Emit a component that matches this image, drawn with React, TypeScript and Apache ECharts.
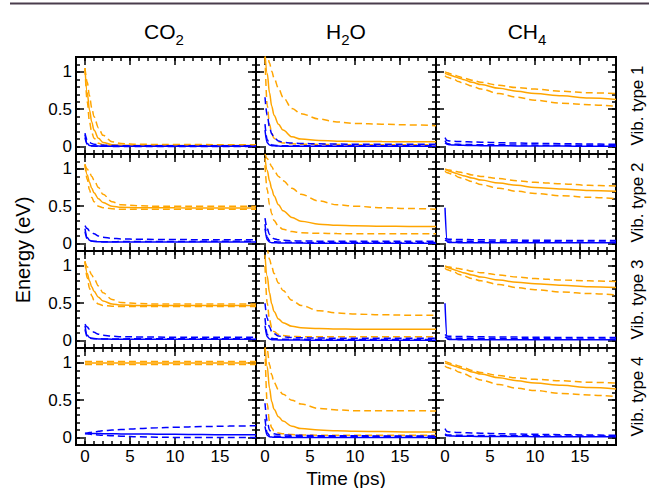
import { useEffect, useRef } from 'react';
import * as echarts from 'echarts';

// time grid (ps) at which values were read
const T = [0, 0.25, 0.5, 0.75, 1, 1.5, 2, 3, 4, 6, 8, 10, 13, 16, 19];

const rowLabels = ['Vib. type 1', 'Vib. type 2', 'Vib. type 3', 'Vib. type 4'];
const xTicks = [0, 5, 10, 15];
const yTicks = [0, 0.5, 1];

// ---- CO2 ----
const co2v1OrSolid = [1.05, 0.72, 0.49, 0.33, 0.22, 0.11, 0.055, 0.025, 0.018, 0.015, 0.015, 0.015, 0.015, 0.015, 0.015];
const co2v1OrDashA = [1.05, 0.86, 0.68, 0.52, 0.4, 0.25, 0.15, 0.065, 0.04, 0.03, 0.028, 0.027, 0.026, 0.025, 0.025];
const co2v1OrDashB = [1.05, 0.6, 0.33, 0.19, 0.11, 0.045, 0.025, 0.015, 0.012, 0.01, 0.01, 0.01, 0.01, 0.01, 0.01];
const co2v1BlSolid = [0.16, 0.04, 0.015, 0.01, 0.008, 0.006, 0.005, 0.004, 0.004, 0.003, 0.003, 0.003, 0.003, 0.003, 0.003];
const co2v1BlDashA = [0.18, 0.09, 0.055, 0.04, 0.03, 0.022, 0.018, 0.014, 0.012, 0.01, 0.01, 0.01, 0.01, 0.01, 0.01];
const co2v1BlDashB = [0.12, 0.03, 0.012, 0.008, 0.006, 0.004, 0.003, 0.002, 0.002, 0.002, 0.002, 0.002, 0.002, 0.002, 0.002];

const co2v2OrSolid = [1.06, 0.92, 0.82, 0.74, 0.68, 0.6, 0.55, 0.5, 0.485, 0.48, 0.48, 0.478, 0.477, 0.476, 0.475];
const co2v2OrDashA = [1.06, 1.0, 0.95, 0.9, 0.85, 0.75, 0.66, 0.56, 0.52, 0.505, 0.5, 0.5, 0.5, 0.5, 0.5];
const co2v2OrDashB = [1.06, 0.86, 0.72, 0.62, 0.56, 0.5, 0.48, 0.465, 0.46, 0.46, 0.46, 0.46, 0.46, 0.46, 0.46];
const co2v2BlSolid = [0.2, 0.08, 0.045, 0.035, 0.03, 0.025, 0.022, 0.02, 0.02, 0.02, 0.02, 0.02, 0.02, 0.02, 0.02];
const co2v2BlDashA = [0.24, 0.2, 0.17, 0.15, 0.13, 0.1, 0.085, 0.07, 0.062, 0.057, 0.055, 0.053, 0.052, 0.05, 0.05];
const co2v2BlDashB = [0.16, 0.06, 0.04, 0.032, 0.028, 0.026, 0.025, 0.025, 0.026, 0.027, 0.028, 0.028, 0.029, 0.03, 0.03];

const co2v3OrSolid = [1.06, 0.9, 0.8, 0.72, 0.66, 0.58, 0.53, 0.49, 0.475, 0.47, 0.47, 0.47, 0.47, 0.47, 0.47];
const co2v3OrDashA = [1.06, 0.99, 0.93, 0.88, 0.83, 0.73, 0.64, 0.55, 0.51, 0.495, 0.49, 0.49, 0.49, 0.49, 0.49];
const co2v3OrDashB = [1.06, 0.84, 0.7, 0.6, 0.54, 0.49, 0.47, 0.46, 0.455, 0.455, 0.455, 0.455, 0.455, 0.455, 0.455];
const co2v3BlSolid = [0.2, 0.07, 0.04, 0.03, 0.026, 0.022, 0.02, 0.018, 0.018, 0.018, 0.018, 0.018, 0.018, 0.018, 0.018];
const co2v3BlDashA = [0.22, 0.18, 0.15, 0.13, 0.11, 0.085, 0.07, 0.058, 0.052, 0.048, 0.046, 0.045, 0.044, 0.043, 0.043];
const co2v3BlDashB = [0.15, 0.05, 0.035, 0.028, 0.025, 0.023, 0.022, 0.022, 0.022, 0.023, 0.024, 0.024, 0.025, 0.025, 0.025];

const co2v4OrSolid = [1.0, 1.0, 1.0, 1.0, 1.0, 1.0, 1.0, 1.0, 1.0, 1.0, 1.0, 1.0, 1.0, 1.0, 1.0];
const co2v4OrDashA = [1.02, 1.02, 1.02, 1.02, 1.02, 1.02, 1.02, 1.02, 1.02, 1.02, 1.02, 1.02, 1.02, 1.02, 1.02];
const co2v4OrDashB = [0.98, 0.98, 0.98, 0.98, 0.98, 0.98, 0.98, 0.98, 0.98, 0.98, 0.98, 0.98, 0.98, 0.98, 0.98];
const co2v4BlSolid = [0.055, 0.055, 0.055, 0.054, 0.054, 0.053, 0.052, 0.05, 0.049, 0.047, 0.045, 0.043, 0.04, 0.038, 0.036];
const co2v4BlDashA = [0.055, 0.06, 0.066, 0.07, 0.075, 0.083, 0.09, 0.1, 0.108, 0.12, 0.13, 0.138, 0.147, 0.153, 0.158];
const co2v4BlDashB = [0.055, 0.05, 0.046, 0.042, 0.039, 0.034, 0.03, 0.024, 0.018, 0.01, 0.005, 0.002, 0.0, 0.0, 0.0];

// ---- H2O ----
const h2ov1OrSolid = [1.25, 0.98, 0.72, 0.54, 0.42, 0.3, 0.22, 0.13, 0.1, 0.08, 0.072, 0.068, 0.066, 0.065, 0.065];
const h2ov1OrDashA = [1.45, 1.25, 1.12, 1.01, 0.92, 0.78, 0.66, 0.51, 0.44, 0.37, 0.33, 0.31, 0.3, 0.29, 0.28];
const h2ov1OrDashB = [1.2, 0.55, 0.3, 0.18, 0.11, 0.065, 0.048, 0.036, 0.031, 0.028, 0.026, 0.025, 0.025, 0.025, 0.025];
const h2ov1BlSolid = [0.22, 0.05, 0.02, 0.012, 0.009, 0.006, 0.005, 0.004, 0.004, 0.003, 0.003, 0.003, 0.003, 0.003, 0.003];
const h2ov1BlDashA = [0.66, 0.42, 0.26, 0.17, 0.12, 0.075, 0.058, 0.046, 0.041, 0.036, 0.033, 0.031, 0.03, 0.03, 0.03];
const h2ov1BlDashB = [0.3, 0.09, 0.035, 0.022, 0.017, 0.013, 0.012, 0.011, 0.01, 0.01, 0.01, 0.01, 0.01, 0.01, 0.01];

const h2ov2OrSolid = [1.15, 0.98, 0.84, 0.73, 0.64, 0.52, 0.44, 0.35, 0.3, 0.26, 0.245, 0.238, 0.233, 0.23, 0.23];
const h2ov2OrDashA = [1.2, 1.14, 1.08, 1.03, 0.98, 0.9, 0.84, 0.74, 0.66, 0.57, 0.52, 0.5, 0.48, 0.47, 0.46];
const h2ov2OrDashB = [1.05, 0.72, 0.52, 0.4, 0.31, 0.23, 0.19, 0.16, 0.145, 0.137, 0.133, 0.131, 0.13, 0.13, 0.13];
const h2ov2BlSolid = [0.2, 0.05, 0.02, 0.012, 0.01, 0.008, 0.007, 0.006, 0.006, 0.005, 0.005, 0.005, 0.005, 0.005, 0.005];
const h2ov2BlDashA = [0.34, 0.2, 0.12, 0.085, 0.065, 0.05, 0.043, 0.037, 0.034, 0.032, 0.03, 0.03, 0.03, 0.03, 0.03];
const h2ov2BlDashB = [0.26, 0.08, 0.04, 0.03, 0.025, 0.02, 0.018, 0.016, 0.015, 0.015, 0.015, 0.015, 0.015, 0.015, 0.015];

const h2ov3OrSolid = [1.15, 0.86, 0.64, 0.49, 0.39, 0.29, 0.24, 0.19, 0.172, 0.16, 0.155, 0.152, 0.15, 0.15, 0.15];
const h2ov3OrDashA = [1.4, 1.22, 1.09, 0.99, 0.9, 0.77, 0.67, 0.54, 0.47, 0.4, 0.37, 0.355, 0.345, 0.34, 0.34];
const h2ov3OrDashB = [1.0, 0.5, 0.28, 0.17, 0.12, 0.082, 0.067, 0.056, 0.052, 0.05, 0.05, 0.05, 0.05, 0.05, 0.05];
const h2ov3BlSolid = [0.2, 0.05, 0.02, 0.012, 0.01, 0.008, 0.007, 0.006, 0.006, 0.005, 0.005, 0.005, 0.005, 0.005, 0.005];
const h2ov3BlDashA = [0.5, 0.3, 0.18, 0.12, 0.09, 0.062, 0.05, 0.041, 0.037, 0.033, 0.031, 0.03, 0.03, 0.03, 0.03];
const h2ov3BlDashB = [0.3, 0.08, 0.04, 0.03, 0.025, 0.02, 0.018, 0.017, 0.016, 0.015, 0.015, 0.015, 0.015, 0.015, 0.015];

const h2ov4OrSolid = [1.25, 0.95, 0.66, 0.48, 0.38, 0.28, 0.22, 0.15, 0.12, 0.1, 0.09, 0.085, 0.08, 0.075, 0.075];
const h2ov4OrDashA = [1.45, 1.18, 0.98, 0.84, 0.74, 0.64, 0.58, 0.5, 0.45, 0.39, 0.37, 0.36, 0.36, 0.36, 0.355];
const h2ov4OrDashB = [1.2, 0.45, 0.22, 0.13, 0.09, 0.06, 0.05, 0.04, 0.035, 0.03, 0.03, 0.03, 0.03, 0.03, 0.03];
const h2ov4BlSolid = [0.15, 0.03, 0.01, 0.006, 0.004, 0.003, 0.002, 0.002, 0.002, 0.002, 0.002, 0.002, 0.002, 0.002, 0.002];
const h2ov4BlDashA = [0.46, 0.22, 0.1, 0.06, 0.05, 0.04, 0.035, 0.03, 0.03, 0.025, 0.024, 0.023, 0.022, 0.021, 0.02];
const h2ov4BlDashB = [0.25, 0.06, 0.03, 0.02, 0.018, 0.016, 0.015, 0.015, 0.015, 0.015, 0.015, 0.015, 0.015, 0.015, 0.015];

// ---- CH4 ----
const ch4v1OrSolid = [0.98, 0.97, 0.96, 0.95, 0.94, 0.92, 0.9, 0.86, 0.83, 0.78, 0.74, 0.71, 0.68, 0.65, 0.63];
const ch4v1OrDashA = [1.0, 0.99, 0.98, 0.97, 0.96, 0.94, 0.92, 0.89, 0.86, 0.82, 0.79, 0.77, 0.74, 0.72, 0.71];
const ch4v1OrDashB = [0.95, 0.93, 0.92, 0.91, 0.9, 0.87, 0.85, 0.81, 0.77, 0.71, 0.66, 0.62, 0.58, 0.56, 0.54];
const ch4v1BlSolid = [0.05, 0.03, 0.025, 0.022, 0.02, 0.018, 0.016, 0.014, 0.012, 0.01, 0.008, 0.007, 0.006, 0.005, 0.005];
const ch4v1BlDashA = [0.12, 0.08, 0.075, 0.072, 0.07, 0.068, 0.066, 0.062, 0.058, 0.052, 0.047, 0.043, 0.038, 0.034, 0.03];
const ch4v1BlDashB = [0.08, 0.04, 0.035, 0.033, 0.03, 0.029, 0.028, 0.026, 0.025, 0.023, 0.021, 0.019, 0.017, 0.016, 0.015];

const ch4v2OrSolid = [0.99, 0.98, 0.97, 0.96, 0.95, 0.93, 0.91, 0.88, 0.85, 0.81, 0.78, 0.75, 0.73, 0.71, 0.7];
const ch4v2OrDashA = [1.0, 0.99, 0.985, 0.98, 0.97, 0.96, 0.95, 0.92, 0.9, 0.87, 0.84, 0.82, 0.8, 0.78, 0.77];
const ch4v2OrDashB = [0.97, 0.95, 0.94, 0.93, 0.92, 0.89, 0.87, 0.83, 0.79, 0.74, 0.7, 0.67, 0.64, 0.62, 0.6];
const ch4v2BlSolid = [0.48, 0.02, 0.015, 0.014, 0.013, 0.012, 0.012, 0.011, 0.011, 0.01, 0.01, 0.01, 0.01, 0.01, 0.01];
const ch4v2BlDashA = [0.07, 0.06, 0.058, 0.057, 0.056, 0.055, 0.054, 0.052, 0.05, 0.048, 0.046, 0.044, 0.042, 0.041, 0.04];
const ch4v2BlDashB = [0.05, 0.035, 0.033, 0.032, 0.031, 0.03, 0.03, 0.029, 0.028, 0.026, 0.025, 0.024, 0.022, 0.021, 0.02];

const ch4v3OrSolid = [0.99, 0.98, 0.97, 0.96, 0.95, 0.93, 0.91, 0.88, 0.85, 0.81, 0.78, 0.76, 0.74, 0.72, 0.71];
const ch4v3OrDashA = [1.0, 0.99, 0.985, 0.98, 0.975, 0.965, 0.955, 0.93, 0.91, 0.88, 0.85, 0.83, 0.81, 0.8, 0.79];
const ch4v3OrDashB = [0.97, 0.95, 0.94, 0.93, 0.92, 0.89, 0.87, 0.83, 0.8, 0.75, 0.71, 0.68, 0.65, 0.63, 0.61];
const ch4v3BlSolid = [0.5, 0.02, 0.015, 0.014, 0.013, 0.012, 0.012, 0.011, 0.011, 0.01, 0.01, 0.01, 0.01, 0.01, 0.01];
const ch4v3BlDashA = [0.08, 0.06, 0.058, 0.057, 0.056, 0.055, 0.054, 0.052, 0.05, 0.048, 0.046, 0.044, 0.042, 0.041, 0.04];
const ch4v3BlDashB = [0.05, 0.035, 0.033, 0.032, 0.031, 0.03, 0.03, 0.029, 0.028, 0.026, 0.025, 0.024, 0.022, 0.021, 0.02];

const ch4v4OrSolid = [1.0, 0.99, 0.98, 0.97, 0.96, 0.94, 0.92, 0.88, 0.85, 0.8, 0.76, 0.73, 0.7, 0.67, 0.65];
const ch4v4OrDashA = [1.02, 1.01, 1.0, 0.99, 0.98, 0.96, 0.94, 0.9, 0.87, 0.83, 0.8, 0.78, 0.76, 0.74, 0.73];
const ch4v4OrDashB = [0.96, 0.94, 0.93, 0.92, 0.91, 0.88, 0.86, 0.81, 0.77, 0.71, 0.66, 0.63, 0.59, 0.57, 0.55];
const ch4v4BlSolid = [0.03, 0.025, 0.022, 0.02, 0.019, 0.018, 0.017, 0.016, 0.015, 0.014, 0.013, 0.012, 0.011, 0.01, 0.01];
const ch4v4BlDashA = [0.12, 0.08, 0.075, 0.072, 0.07, 0.068, 0.066, 0.062, 0.058, 0.052, 0.047, 0.043, 0.038, 0.034, 0.03];
const ch4v4BlDashB = [0.05, 0.035, 0.033, 0.032, 0.031, 0.03, 0.029, 0.028, 0.027, 0.025, 0.024, 0.023, 0.021, 0.02, 0.02];

const panels = [
  [co2v1OrSolid, co2v1OrDashA, co2v1OrDashB, co2v1BlSolid, co2v1BlDashA, co2v1BlDashB],
  [h2ov1OrSolid, h2ov1OrDashA, h2ov1OrDashB, h2ov1BlSolid, h2ov1BlDashA, h2ov1BlDashB],
  [ch4v1OrSolid, ch4v1OrDashA, ch4v1OrDashB, ch4v1BlSolid, ch4v1BlDashA, ch4v1BlDashB],
  [co2v2OrSolid, co2v2OrDashA, co2v2OrDashB, co2v2BlSolid, co2v2BlDashA, co2v2BlDashB],
  [h2ov2OrSolid, h2ov2OrDashA, h2ov2OrDashB, h2ov2BlSolid, h2ov2BlDashA, h2ov2BlDashB],
  [ch4v2OrSolid, ch4v2OrDashA, ch4v2OrDashB, ch4v2BlSolid, ch4v2BlDashA, ch4v2BlDashB],
  [co2v3OrSolid, co2v3OrDashA, co2v3OrDashB, co2v3BlSolid, co2v3BlDashA, co2v3BlDashB],
  [h2ov3OrSolid, h2ov3OrDashA, h2ov3OrDashB, h2ov3BlSolid, h2ov3BlDashA, h2ov3BlDashB],
  [ch4v3OrSolid, ch4v3OrDashA, ch4v3OrDashB, ch4v3BlSolid, ch4v3BlDashA, ch4v3BlDashB],
  [co2v4OrSolid, co2v4OrDashA, co2v4OrDashB, co2v4BlSolid, co2v4BlDashA, co2v4BlDashB],
  [h2ov4OrSolid, h2ov4OrDashA, h2ov4OrDashB, h2ov4BlSolid, h2ov4BlDashA, h2ov4BlDashB],
  [ch4v4OrSolid, ch4v4OrDashA, ch4v4OrDashB, ch4v4BlSolid, ch4v4BlDashA, ch4v4BlDashB],
];

const ORANGE = '#FFA500';
const BLUE = '#0000FF';
const FONT = '"Liberation Sans", Arial, Helvetica, sans-serif';

const COL_LEFT = [76, 256, 436];
const ROW_TOP = [57, 154, 251, 348];
const PW = 180;
const PH = 97;

function mkAxis(dim: 'x' | 'y', gridIndex: number, position: string, major: boolean, showLabel: boolean) {
  const isX = dim === 'x';
  const ticks = isX ? [0, 5, 10, 15] : [0, 0.5, 1];
  const ax: any = {
    type: 'value',
    gridIndex,
    position,
    min: isX ? -1 : -0.1,
    max: isX ? 19 : 1.2,
    interval: isX ? 1 : 0.1,
    splitLine: { show: false },
    axisLine: { show: true, onZero: false, lineStyle: { color: '#000', width: 2 } },
    axisTick: { show: true, inside: true, length: major ? 8 : 4, lineStyle: { color: '#000', width: 1.5 } },
    axisLabel: { show: false },
  };
  if (major) {
    ax.axisTick.customValues = ticks.slice();
    ax.axisLabel = { show: showLabel, customValues: ticks.slice(), fontSize: 17, color: '#000', margin: isX ? 3 : 4, fontFamily: FONT };
  }
  return ax;
}

function buildOption() {
  const grid: any[] = [];
  const xAxis: any[] = [];
  const yAxis: any[] = [];
  const series: any[] = [];

  panels.forEach((lines, i) => {
    const r = Math.floor(i / 3);
    const c = i % 3;
    grid.push({ left: COL_LEFT[c], top: ROW_TOP[r], width: PW, height: PH });
    xAxis.push(mkAxis('x', i, 'bottom', false, false));
    xAxis.push(mkAxis('x', i, 'bottom', true, r === 3));
    xAxis.push(mkAxis('x', i, 'top', false, false));
    xAxis.push(mkAxis('x', i, 'top', true, false));
    yAxis.push(mkAxis('y', i, 'left', false, false));
    yAxis.push(mkAxis('y', i, 'left', true, c === 0));
    yAxis.push(mkAxis('y', i, 'right', false, false));
    yAxis.push(mkAxis('y', i, 'right', true, false));
    lines.forEach((vals, k) => {
      const color = k < 3 ? ORANGE : BLUE;
      const dashed = k % 3 !== 0;
      series.push({
        type: 'line',
        xAxisIndex: 4 * i,
        yAxisIndex: 4 * i,
        data: T.map((t, j) => [t, vals[j]]),
        showSymbol: false,
        symbol: 'none',
        smooth: 0.35,
        smoothMonotone: 'x',
        clip: true,
        z: k < 3 ? 2 : 3,
        lineStyle: { color, width: 1.5, type: dashed ? [7, 4] : 'solid' },
      });
    });
  });

  const graphic: any[] = [
    { type: 'line', shape: { x1: 10, y1: 3.5, x2: 649, y2: 3.5 }, style: { stroke: '#4a3c4c', lineWidth: 2 } },
  ];
  const titleParts = [
    { cx: 164, main1: 'CO', sub: '2', main2: '' },
    { cx: 346, main1: 'H', sub: '2', main2: 'O' },
    { cx: 527, main1: 'CH', sub: '4', main2: '' },
  ];
  const mainSize = 21;
  const subSize = 15;
  const charW = (s: string) => s.split('').reduce((a, ch) => a + (ch === 'C' ? 0.722 : ch === 'O' ? 0.778 : ch === 'H' ? 0.722 : 0.556), 0);
  titleParts.forEach((p) => {
    const w1 = charW(p.main1) * mainSize;
    const ws = 0.556 * subSize;
    const w2 = charW(p.main2) * mainSize;
    const x0 = p.cx - (w1 + ws + w2) / 2;
    graphic.push({ type: 'text', x: x0, y: 31, style: { text: p.main1, font: `${mainSize}px ${FONT}`, fill: '#000', textAlign: 'left', textVerticalAlign: 'middle' } });
    graphic.push({ type: 'text', x: x0 + w1, y: 39, style: { text: p.sub, font: `${subSize}px ${FONT}`, fill: '#000', textAlign: 'left', textVerticalAlign: 'middle' } });
    if (p.main2) {
      graphic.push({ type: 'text', x: x0 + w1 + ws, y: 31, style: { text: p.main2, font: `${mainSize}px ${FONT}`, fill: '#000', textAlign: 'left', textVerticalAlign: 'middle' } });
    }
  });
  rowLabels.forEach((lab, r) => {
    graphic.push({
      type: 'text', x: 637, y: ROW_TOP[r] + PH / 2, rotation: Math.PI / 2,
      style: { text: lab, font: `17px ${FONT}`, fill: '#000', textAlign: 'center', textVerticalAlign: 'middle' },
    });
  });
  graphic.push({
    type: 'text', x: 23, y: 250, rotation: Math.PI / 2,
    style: { text: 'Energy (eV)', font: `20px ${FONT}`, fill: '#000', textAlign: 'center', textVerticalAlign: 'middle' },
  });
  graphic.push({
    type: 'text', x: 346, y: 478.5,
    style: { text: 'Time (ps)', font: `19px ${FONT}`, fill: '#000', textAlign: 'center', textVerticalAlign: 'middle' },
  });

  return {
    animation: false,
    backgroundColor: '#fff',
    grid,
    xAxis,
    yAxis,
    series,
    graphic,
  };
}

export default function App() {
  const ref = useRef<HTMLDivElement>(null);
  useEffect(() => {
    if (!ref.current) return;
    const chart = echarts.init(ref.current, null, { renderer: 'svg' });
    chart.setOption(buildOption() as any);
    return () => chart.dispose();
  }, []);
  return <div ref={ref} style={{ position: 'fixed', left: 0, top: 0, width: 649, height: 488, background: '#fff' }} />;
}
